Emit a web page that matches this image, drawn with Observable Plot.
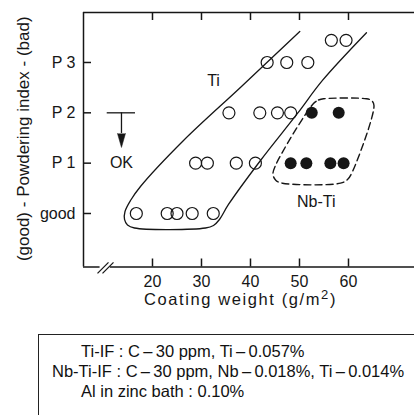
<!DOCTYPE html>
<html>
<head>
<meta charset="utf-8">
<script src="https://cdn.jsdelivr.net/npm/d3@7"></script>
<script src="https://cdn.jsdelivr.net/npm/@observablehq/plot@0.6"></script>
<style>
  html, body { margin: 0; padding: 0; background: #fff; width: 414px; height: 415px; overflow: hidden; }
  #chart svg { display: block; }
  .note {
    margin: 24px 0 0 38px; width: 430px; height: 120px;
    border: 1.5px solid #222; border-right: none; border-bottom: none; box-sizing: border-box;
    padding-top: 6px;
    font-family: "Liberation Sans", Arial, sans-serif; font-size: 16.5px; color: #111;
  }
  .note div { line-height: 20px; white-space: nowrap; }
</style>
</head>
<body>
<div id="chart"></div>
<div class="note" id="note"></div>
<script>
// Powdering index versus coating weight, Ti-IF (open) and Nb-Ti-IF (filled) steels.
const weightTicks = [20, 30, 40, 50, 60];
const indexTicks = [0, 1, 2, 3];
const indexLabels = ["good", "P 1", "P 2", "P 3"];

// Ti-IF samples (open circles)
const tiWeight = [16.7, 23.0, 25.0, 28.1, 32.4,
                  28.8, 31.2, 37.1, 41.0,
                  35.6, 41.9, 45.5, 48.2,
                  43.4, 47.4, 51.7,
                  56.5, 59.5];
const tiIndex  = [0, 0, 0, 0, 0,
                  1, 1, 1, 1,
                  2, 2, 2, 2,
                  3, 3, 3,
                  3.44, 3.44];

// Nb-Ti-IF samples (filled circles)
const nbWeight = [48.2, 51.4, 56.3, 59.0, 52.5, 58.0];
const nbIndex  = [1, 1, 1, 1, 2, 2];

// Envelope around the Ti-IF results (open at the top)
const tiEnvWeight = [50.06, 38.16, 26.33, 17.55, 15.51, 14.39, 14.29, 14.90, 16.33,
                     30.82, 32.45, 33.67, 35.51, 42.04, 49.59, 54.69, 63.67];
const tiEnvIndex  = [3.616, 2.523, 1.450, 0.536, 0.258, 0.040, -0.119, -0.228, -0.288,
                     -0.288, -0.238, -0.119, 0.179, 1.053, 1.987, 2.643, 3.590];

// Dashed envelope around the Nb-Ti-IF results
const nbEnvWeight = [53.88, 54.90, 63.67, 64.69, 65.20, 60.82, 59.80, 58.37, 46.53,
                     45.20, 44.59, 45.10, 52.86, 53.88];
const nbEnvIndex  = [2.255, 2.279, 2.279, 2.245, 2.146, 0.834, 0.676, 0.602, 0.602,
                     0.656, 0.775, 0.954, 2.186, 2.255];

const yTitle = "(good) - Powdering index - (bad)";
const xTitleParts = ["Coating weight (g/m", "2", ")"];
const noteLines = [
  "Ti-IF : C\u2009\u2013\u200930 ppm, Ti\u2009\u2013\u20090.057%",
  "Nb-Ti-IF : C\u2009\u2013\u200930 ppm, Nb\u2009\u2013\u20090.018%, Ti\u2009\u2013\u20090.014%",
  "Al in zinc bath : 0.10%"
];
const noteIndent = [42, 13, 42];

const xMin = 5.92, xMax = 73.47, yMin = -1.063, yMax = 3.993;
const ink = "#161616";

const tiPts = tiWeight.map((w, i) => ({w, p: tiIndex[i]}));
const nbPts = nbWeight.map((w, i) => ({w, p: nbIndex[i]}));
const tiEnv = tiEnvWeight.map((w, i) => ({w, p: tiEnvIndex[i]}));
const nbEnv = nbEnvWeight.map((w, i) => ({w, p: nbEnvIndex[i]}));

// broken bottom axis and its "//" marks
const bottomSegments = [{a: xMin, b: 9.3}, {a: 11.4, b: xMax}];
const breakMarks = [{x1: 8.78, y1: -1.19, x2: 11.02, y2: -0.97}, {x1: 9.8, y1: -1.19, x2: 12.04, y2: -0.97}];

// "OK" annotation: bar at P2 with a downward arrow
const okX = 13.67;
const okBar = [{x1: 10.76, x2: 16.53, y: 2}];
const okStem = [{x: okX, y1: 2, y2: 1.59}];

const plotW = 414 - 83, plotH = 266.5 - 12;

const chart = Plot.plot({
  width: 414,
  height: 310,
  marginLeft: 83,
  marginRight: 0,
  marginTop: 12,
  marginBottom: 43.5,
  x: {domain: [xMin, xMax]},
  y: {domain: [yMin, yMax]},
  style: {fontFamily: "Liberation Sans, Arial, sans-serif", fontSize: "16px", color: ink, background: "white", overflow: "visible"},
  marks: [
    // frame
    Plot.ruleY([yMax], {stroke: ink, strokeWidth: 1.5}),
    Plot.ruleX([xMin], {stroke: ink, strokeWidth: 1.5}),
    Plot.ruleY(bottomSegments, {y: yMin, x1: "a", x2: "b", stroke: ink, strokeWidth: 1.5}),
    Plot.link(breakMarks, {x1: "x1", y1: "y1", x2: "x2", y2: "y2", stroke: ink, strokeWidth: 1.2}),
    // inward ticks
    Plot.tickY(indexTicks, {y: d => d, insetRight: plotW - 8, stroke: ink, strokeWidth: 1.5}),
    Plot.tickX(weightTicks, {x: d => d, insetTop: plotH - 8, stroke: ink, strokeWidth: 1.5}),
    Plot.tickX(weightTicks, {x: d => d, insetBottom: plotH - 8, stroke: ink, strokeWidth: 1.5}),
    Plot.axisY({ticks: indexTicks, tickFormat: d => indexLabels[indexTicks.indexOf(d)], tickSize: 0, tickPadding: 8, label: null, fontSize: 16}),
    Plot.axisX({ticks: weightTicks, tickSize: 0, tickPadding: 9, label: null, fontSize: 16}),
    // envelopes
    Plot.line(tiEnv, {x: "w", y: "p", stroke: ink, strokeWidth: 1.3, curve: "catmull-rom"}),
    Plot.line(nbEnv, {x: "w", y: "p", stroke: ink, strokeWidth: 1.4, strokeDasharray: "7,4", curve: "catmull-rom"}),
    // samples
    Plot.dot(tiPts, {x: "w", y: "p", r: 6, stroke: ink, strokeWidth: 1.2, fill: "none"}),
    Plot.dot(nbPts, {x: "w", y: "p", r: 6, fill: ink, stroke: "none"}),
    // OK annotation
    Plot.ruleY(okBar, {y: "y", x1: "x1", x2: "x2", stroke: ink, strokeWidth: 1.3}),
    Plot.ruleX(okStem, {x: "x", y1: "y1", y2: "y2", stroke: ink, strokeWidth: 1.3}),
    Plot.vector([okX], {x: d => d, y: 1.59, length: 14, r: 4, rotate: 180, anchor: "start", shape: "spike", fill: ink, stroke: ink, strokeWidth: 0.5}),
    Plot.text(["OK"], {x: okX, y: 1.0, fontSize: 16, fill: ink}),
    // group labels
    Plot.text(["Ti"], {x: 32.45, y: 2.64, fontSize: 16, fill: ink}),
    Plot.text(["Nb-Ti"], {x: 53.43, y: 0.225, fontSize: 16, fill: ink}),
    // axis titles
    Plot.text([yTitle], {x: xMin, y: (yMin + yMax) / 2, dx: -60, dy: -1, rotate: -90, textAnchor: "middle", lineAnchor: "middle", fontSize: 17, fill: ink}),
    Plot.text([xTitleParts.join("")], {frameAnchor: "bottom", dx: -8.5, dy: 33, textAnchor: "middle", lineAnchor: "middle", fontSize: 16.5, fill: ink})
  ]
});

// raise the exponent in the x-axis title
d3.select(chart).selectAll("text")
  .filter(function () { return this.textContent === xTitleParts.join(""); })
  .each(function () {
    const t = d3.select(this);
    t.text(null).style("letter-spacing", "1.6px");
    t.append("tspan").text(xTitleParts[0]);
    t.append("tspan").attr("dy", -6).attr("font-size", "13px").text(xTitleParts[1]);
    t.append("tspan").attr("dy", 6).text(xTitleParts[2]);
  });

document.getElementById("chart").append(chart);

const note = d3.select("#note");
noteLines.forEach((line, i) => {
  note.append("div").style("padding-left", noteIndent[i] + "px").text(line);
});
</script>
</body>
</html>
